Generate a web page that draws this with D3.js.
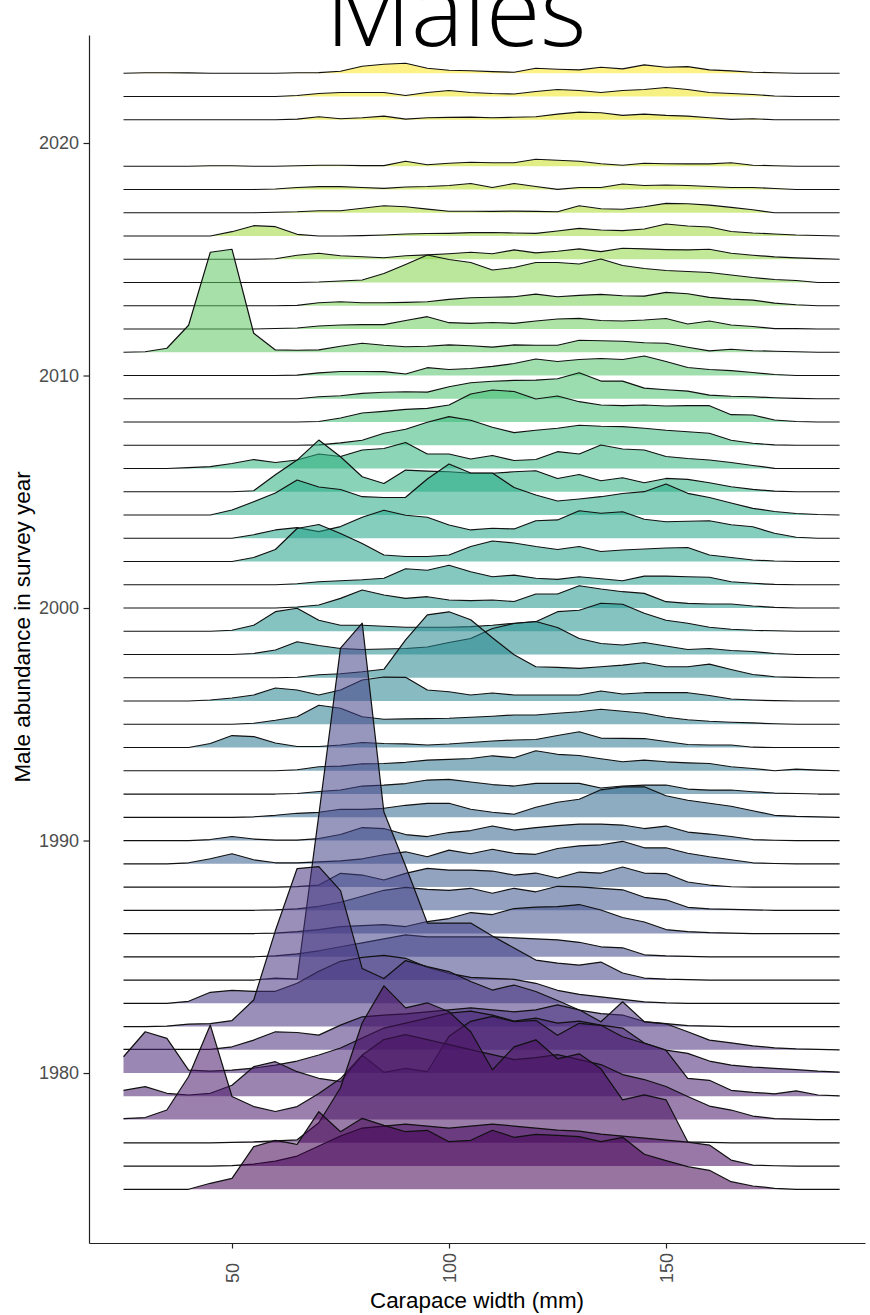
<!DOCTYPE html>
<html>
<head>
<meta charset="utf-8">
<script src="https://cdn.jsdelivr.net/npm/d3@7"></script>
<style>
  body { margin: 0; background: #fff; }
  .axis text { font-family: "Liberation Sans", Arial, sans-serif; font-size: 18px; fill: #4d4d4d; }
  .axis path, .axis line { stroke: #222; stroke-width: 1.2; }
</style>
</head>
<body>
<div id="chart"></div>
<script>
// carapace width bins (mm)
var widths = [25,30,35,40,45,50,55,60,65,70,75,80,85,90,95,100,105,110,115,120,125,130,135,140,145,150,155,160,165,170,175,180,185,190];

var years = [1975,1976,1977,1978,1979,1980,1981,1982,1983,1984,1985,1986,1987,1988,1989,1990,1991,1992,1993,1994,1995,1996,1997,1998,1999,2000,2001,2002,2003,2004,2005,2006,2007,2008,2009,2010,2011,2012,2013,2014,2015,2016,2017,2018,2019,2021,2022,2023];

// relative male abundance per width bin, one list per survey year
var m1975 = [0,0,0,0,6,11,42.6,49,45,77.6,57.6,71,64,57.6,59,47.6,49,59,52,55,54,52.6,47.6,52,35,28.6,22.6,19,7.6,3.3,1,0,0,0];
var m1976 = [0,0,0,0,0,0.5,2,5,10,20,30,38,40,42,40,38,40,42,40,38,36,35,32,30,28,26,24,21,6,1,0.3,0,0,0];
var m1977 = [0,0,0,0,0,0.5,1,2,3,20,55,120,157,135,140,131,111,73,96,103,84,89,74,43,48,43,1,0.5,0,0,0,0,0,0];
var m1978 = [1,2,9.5,43,94.5,23,13,8,13,26,41,64.5,80,85,80,75,70,65,60,62,65,60,55,45,40,33,23,13.5,9.5,3.5,1,0.5,0,0];
var m1979 = [6,9.6,3,1.3,3,11,29.6,34.6,24.6,18,14.6,41,24,28,24.6,60,75,80,74.6,76,61,73,71,59.6,53,46,18,16,6,4,2.5,5.5,1.3,0.5];
var m1980 = [16.3,41.3,34.7,3,2,3,5,8,12,18,25,35,45,50,55,60,62,58,52,55,50,52,48,45,30,23,19.7,12,8,6,4.7,3.5,2,1];
var m1981 = [0.5,0.5,0.5,0.5,0.5,3,9.7,18,17.3,14.7,24.7,33,34.7,36,38,40,42,40,38,40,45,40,28,48,28,26,18,9.7,7,4,2,1,0.5,0];
var m1982 = [0,0,0.5,2.5,3,6,26.5,96,158,160,136,58,48,66,60,55,45,36.5,41.5,35,26,16.5,13,11.5,5,3,1,0.5,0,0,0,0,0,0];
var m1983 = [0,0,0,2,11,13,12,12,20,32,42,46,48,45,36,30,26,25,24,20,13,9,6.5,4,1.5,0.5,0,0,0,0,0,0,0,0];
var m1984 = [0,0,0,0,0,0,0,2,1,165,332,357,168,114,57,57,57,44,32,20,17,15,18,7,2,1,0.5,0,0,0,0,0,0,0];
var m1985 = [0,0,0,0,0,0,0,1,3,6,10,14,18,22,20,20,20,20,19,18,17,14.5,10,9,2,1,0.5,0,0,0,0,0,0,0];
var m1986 = [0,0,0,0,0,0,0,0.5,2,4,7,8,9,7,12,15,21,19,25,26.5,27,29,23.5,16,11.5,4,2,1,0.5,0,0,0,0,0];
var m1987 = [0,0,0,0,0,0,0,0.5,1.5,4,8,14,20,23,21,20,22,17,22,18.5,24,23.5,22,20.5,13,10.5,3,1.5,1,0.5,0,0,0,0];
var m1988 = [0,0,0,0,0,0,0,0,0.5,2,13.7,12,7,13.7,18.7,17,17,16,12,14,9,15,14,20,14,13.5,5,2,0.3,0,0,0,0,0];
var m1989 = [0,0,0,1,5,10,4,1,1,2,3,5,9,12,7,13.7,10,14.5,10.5,9.5,15.3,18,19,22.5,16,16,10.5,7,4,1,0.3,0,0,0];
var m1990 = [0,0,0,0,1,4,1.5,0.5,0.5,2,6,13,12,6,4,8,10,14.5,10.5,13,15,16.5,16.5,15.5,12,14.5,8.5,6.5,4,1,0.3,0,0,0];
var m1991 = [0,0,0,0,0,0,0.5,2,4,5,8,8,9,12,14,14,8,5,3,10,15,18,27.5,30.5,30.5,21.5,17,14,11,6.5,2,1,0.5,0];
var m1992 = [0,0,0,0,0,0,0,0,0.5,2.5,4,8,9,10.5,14,14.7,12,9.5,8,10.7,10.7,10.7,6,8,9,9,5,4,4,2.3,1,0.5,0,0];
var m1993 = [0,0,0,0,0,0,0,0,1,4,4.7,7,7.3,8.5,10.7,11.5,12.3,15,13,20,16.5,15.3,12,9,10.7,9,8,7.3,4,2.3,0,1.7,0.7,0];
var m1994 = [0,0,0,0,4,12,11,4.5,1,1,2.5,5,4,3.7,2.5,3.5,5,6.5,7.5,8,12,15.8,9.5,9.2,9,6,3,2.5,2.5,0.3,0,0,0,0];
var m1995 = [0,0,0,0,0,0,1,4,7.5,19,16,7.5,5,5.3,5.7,6,7,8,9.3,9.3,11,12.5,15,13,11,7,4.5,3,2,1.3,0.5,0,0,0];
var m1996 = [0,0,0,0,1,3,6,13,11,6,11,21,24,23.7,11,9.3,6,8,6,6,6,6,10,7,8.3,8.3,8.3,5.5,2,1,0.3,0,0,0];
var m1997 = [0,0,0,0,0,0,0,0,0.5,3,4,6,8.5,38,63,66,58,40,23,11,10.3,9.3,11,12.7,15,11,11,13.7,8.3,3.3,1,0.3,0,0];
var m1998 = [0,0,0,0,0,0,1,4.5,12.8,9,6,5,5.5,6,7.5,12,16,26,31,33,27,16,11,9.5,12,8.5,5,6,4,3,1,0,0,0];
var m1999 = [0,0,0,0,0,1,6,19.6,23,11,6,6,5,4,4,4,4.6,6,8,9.6,19.6,21,28,27,18,11,8,4,2,1,0.5,0,0,0];
var m2000 = [0,0,0,0,0,0,0,0,1,3,9.7,18,13,9.7,11.3,8,7.3,8,6.5,14,14,22.3,19,16.3,14.7,6.3,4.7,4,4,2,0.7,0,0,0];
var m2001 = [0,0,0,0,0,0,0,0,1,3,4,5,6.5,16,14.5,19.5,13,8,9.7,6.5,5.3,8,6,4,8.7,8.7,8,7.5,3,1.5,0.3,0,0,0];
var m2002 = [0,0,0,0,0,0,4,12,33,37,28,18,6.5,5,5,6.5,15,20.5,18.5,15,12,15,10,11.5,12.5,13.5,14,6.5,4,1.5,0.5,0,0,0];
var m2003 = [0,0,0,0,0,0,3.5,8.3,10.7,6.7,11.7,21,28,23,21,13.3,8.3,10,9.3,17.5,18.3,27.5,25,26.5,19,16.5,17,17.5,13.5,11.5,5,1,0,0];
var m2004 = [0,0,0,0,0,5,13.3,22,35,28,25.5,18.3,17.5,17.7,36,51,42,42,27.5,20,14,16,18.3,21.5,23.3,31,21.7,17.5,12,6.7,3.5,1.5,0.5,0];
var m2005 = [0,0,0,0,0,0,1,17,31.7,51.7,35,15,8.3,21.7,20.7,20,18.5,18.5,20,21,13.3,17.3,11,14,9,13.3,12.3,9,5,2.3,0.7,0,0,0];
var m2006 = [0,0,0,0.8,1.8,5,9,6,8.5,14.5,12,18.5,20,26,14.5,14.5,9.5,13,8,9,16.8,14.5,23.5,19.5,18.5,12,10,8.5,6,3,0.2,0,0,0];
var m2007 = [0,0,0,0,0,0,0,0,0,0.3,2.3,5,12,16,23,28.6,25,18,12.6,15,17,20,19,18.6,17,15,13.5,12,5,2,0.3,0,0,0];
var m2008 = [0,0,0,0,0,0,0,0,0,0.5,4,9,10.7,12.7,13.7,17,28,32,30.5,23,26,20.3,17,16.3,17,16,16.3,16.3,7.3,7,2,0.5,0,0];
var m2009 = [0,0,0,0,0,0,0,0,0,2,3,5.3,6.5,7,6.7,12,16,17.5,18.3,18.7,20,26,17.7,17.7,10.7,9,7.7,3.7,2.5,2,1,0.3,0,0];
var m2010 = [0,0,0,0,0,0,0,0,0.3,2.7,4,4,3.8,1.5,7.8,6,7,9.2,12,16.5,14,16,17,16,19.5,14,8,6,4.8,3,1,0,0,0];
var m2011 = [0,0.5,4,27,100,103,19,2.3,2,2.3,6,9,7,5.5,6,7.3,6.5,5.2,7.3,7,7,12,11.5,11,9.5,9,5,1.3,3,1.5,1,0.5,0,0];
var m2012 = [0,0,0,0,0,0,0,0.5,1,3,4,4.3,4.3,8.5,12.3,6.3,5.7,6.5,5.7,8,10,10.7,8.5,8,9,10.5,5,8,4,2.5,0.3,0.3,0,0];
var m2013 = [0,0,0,0,0,0,0,0,0.3,3,4,3,3,3.3,4,6.3,8,8.5,9,11.7,9,10.3,11.3,10,9.7,13.3,12,8.3,6.7,5.7,2.7,1,0,0];
var m2014 = [0,0,0,0,0,0,0,0,0,0.5,1.5,2.5,9,18,27.5,23,20,12.5,15,20,20,18.5,23.5,17,14,12,11,10,7.5,5,3,2,0,0];
var m2015 = [0,0,0,0,0,0,0,0.5,4,6,3.5,2.5,1.5,3.5,4.3,5.5,7,5.5,9.3,6.3,8,10.3,7.7,11,10.3,9.7,9.3,10,6,4,2.3,1.3,0.7,0];
var m2016 = [0,0,0,0,0,4.3,10.3,9.3,1.7,0,0,0.3,1,2,2.5,2.7,3.3,3.5,3,2.7,5,7.7,6,5.3,7,12,10,9,4.5,3,2,1,0.5,0];
var m2017 = [0,0,0,0,0,0,0,0.5,1,2,2,4.5,7,6,3.7,1.5,1.5,1.3,1.7,1.3,1,7,4,3.5,6,9.3,9,7.7,5.3,3,0,0,0,0];
var m2018 = [0,0,0,0,0,0,0,0.5,2,2.8,2.8,2,1.2,2.5,3,4,6,2,6,3,0.2,2,2,5.5,4,4.5,4,3,2,2,1,0,0,0];
var m2019 = [0,0,0,0,0.5,0.5,0,0,0.5,1,1,0.7,0.7,5,1.5,3,4,3.5,3.5,7,6,5,2.5,1,3,2.5,2.3,2.3,3.5,1,0.5,0,0,0];
var m2021 = [0,0,0,0,0,0,0,0,0.7,3,1,2,3.7,0.7,2,2.3,2.7,2,2.5,3,5.7,7.7,7,4.3,5.7,4.3,3.7,2,0.3,1,0,0,0,0];
var m2022 = [0,0,0,0,0,0,0,0,1,3,4,4,4,1,4,6,4,3,2.5,5,7,6,4,6,7,9,7,4,3,2,0.5,0,0,0];
var m2023 = [0,0.5,0.5,0.3,0,0,0,0,0.5,0.7,2,7,9,10,5,3,2.5,1.7,1,5,4,3.3,6,4.3,8.3,6,6.7,3.3,2.3,1,0.5,0,0,0];

var series = [m1975,m1976,m1977,m1978,m1979,m1980,m1981,m1982,m1983,m1984,m1985,m1986,m1987,m1988,m1989,m1990,m1991,m1992,m1993,m1994,m1995,m1996,m1997,m1998,m1999,m2000,m2001,m2002,m2003,m2004,m2005,m2006,m2007,m2008,m2009,m2010,m2011,m2012,m2013,m2014,m2015,m2016,m2017,m2018,m2019,m2021,m2022,m2023];

var yTicks = [1980, 1990, 2000, 2010, 2020];
var xTicks = [50, 100, 150];

var W = 870, H = 1315;
var panel = {left: 89, right: 865, top: 35, bottom: 1243};
var ridgeScale = 0.043;   // years of vertical space per abundance unit

var svg = d3.select("#chart").append("svg")
    .attr("width", W)
    .attr("height", H)
    .style("display", "block");

svg.append("rect").attr("width", W).attr("height", H).attr("fill", "#fff");

var x = d3.scaleLinear().domain([17.05, 195.85]).range([panel.left, panel.right]);
var y = d3.scaleLinear().domain([1972.69, 2024.645]).range([panel.bottom, panel.top]);

var color = d3.scaleSequential(d3.interpolateViridis).domain([1975, 2023]);

var rows = years.map(function(yr, i) {
  return {year: yr, pts: widths.map(function(w, j) { return {w: w, v: series[i][j]}; })};
});

// draw from the top row down so lower rows sit in front
rows.sort(function(a, b) { return b.year - a.year; });

var g = svg.append("g");

rows.forEach(function(r) {
  var area = d3.area()
      .x(function(d) { return x(d.w); })
      .y0(y(r.year))
      .y1(function(d) { return y(r.year + d.v * ridgeScale); });
  var line = d3.line()
      .x(function(d) { return x(d.w); })
      .y(function(d) { return y(r.year + d.v * ridgeScale); });

  g.append("path")
      .datum(r.pts)
      .attr("d", area)
      .attr("fill", color(r.year))
      .attr("fill-opacity", 0.55);
  g.append("path")
      .datum(r.pts)
      .attr("d", line)
      .attr("fill", "none")
      .attr("stroke", "#111")
      .attr("stroke-width", 1.2)
      .attr("stroke-linejoin", "round");
});

// axes
svg.append("g")
    .attr("class", "axis")
    .attr("transform", "translate(" + panel.left + ",0)")
    .call(d3.axisLeft(y).tickValues(yTicks).tickFormat(d3.format("d")).tickSizeInner(5.5).tickSizeOuter(0).tickPadding(4.5));

var xAxis = svg.append("g")
    .attr("class", "axis")
    .attr("transform", "translate(0," + panel.bottom + ")")
    .call(d3.axisBottom(x).tickValues(xTicks).tickSizeInner(5.5).tickSizeOuter(0));

// vertical tick labels, aligned at their bottom end
xAxis.selectAll(".tick text")
    .attr("transform", "rotate(-90)")
    .attr("text-anchor", "start")
    .attr("x", -40)
    .attr("y", 0)
    .attr("dy", "0.35em");

// titles
svg.append("text")
    .attr("x", (panel.left + panel.right) / 2)
    .attr("y", 1308)
    .attr("text-anchor", "middle")
    .style("font-family", "Liberation Sans, Arial, sans-serif")
    .style("font-size", "22.4px")
    .style("fill", "#000")
    .text("Carapace width (mm)");

svg.append("text")
    .attr("transform", "translate(30,627) rotate(-90)")
    .attr("text-anchor", "middle")
    .style("font-family", "Liberation Sans, Arial, sans-serif")
    .style("font-size", "22.4px")
    .style("fill", "#000")
    .text("Male abundance in survey year");

svg.append("text")
    .attr("x", 456)
    .attr("y", 46)
    .attr("text-anchor", "middle")
    .style("font-family", "'Open Sans', sans-serif")
    .style("font-weight", 300)
    .style("font-size", "99px")
    .style("fill", "#000")
    .text("Males");
</script>
</body>
</html>
